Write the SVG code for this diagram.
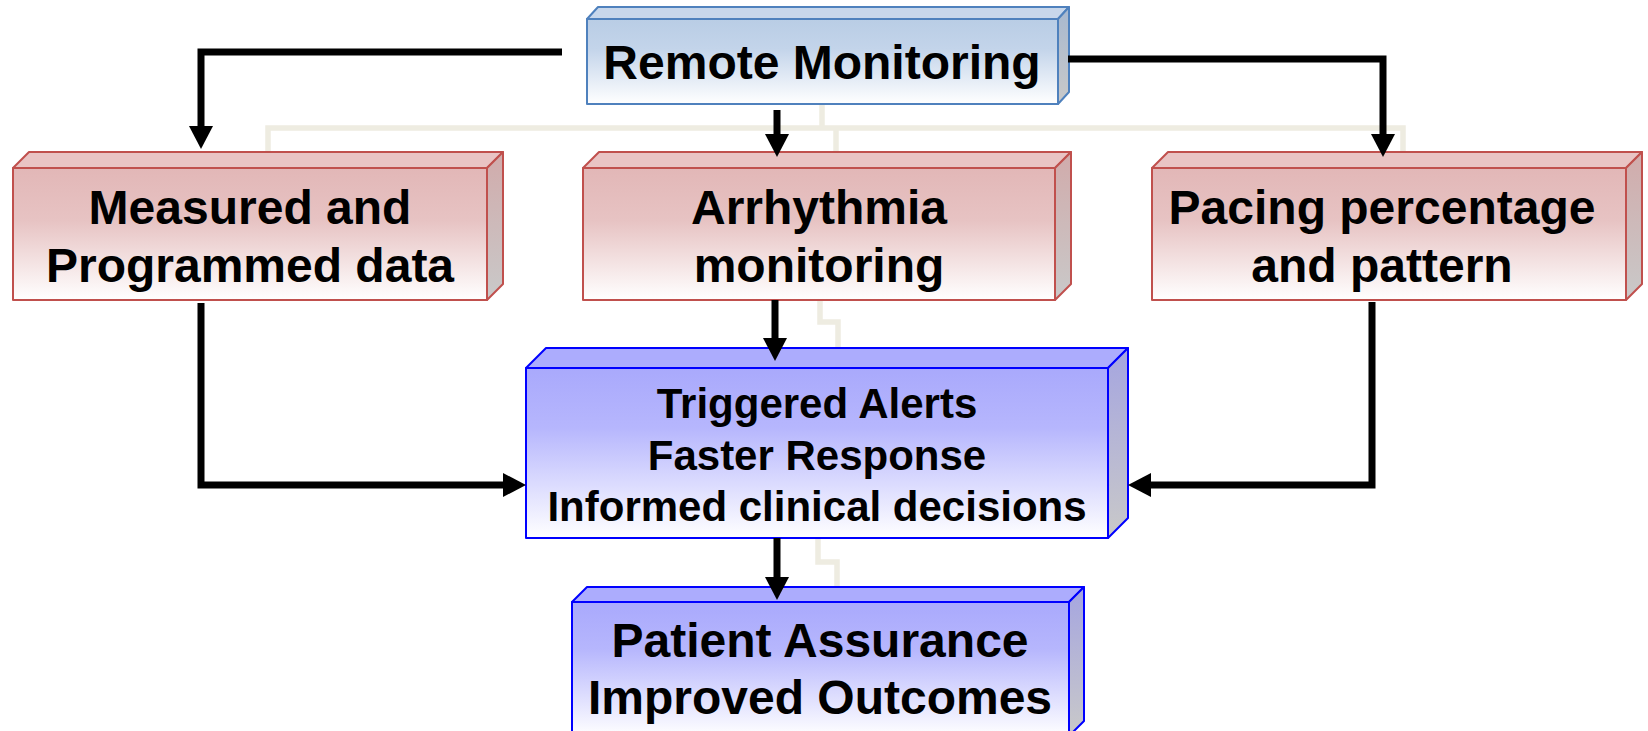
<svg xmlns="http://www.w3.org/2000/svg" width="1648" height="731" viewBox="0 0 1648 731">
  <defs>
    <!-- front-face fills: solid tint at the top fading to white -->
    <linearGradient id="gBlueFront" x1="0" y1="0" x2="0" y2="1">
      <stop offset="0" stop-color="#B9CDE5"/>
      <stop offset="0.35" stop-color="#C3D4EA"/>
      <stop offset="1" stop-color="#FFFFFF"/>
    </linearGradient>
    <linearGradient id="gRedFront" x1="0" y1="0" x2="0" y2="1">
      <stop offset="0" stop-color="#E2B7B7"/>
      <stop offset="0.4" stop-color="#E7C3C3"/>
      <stop offset="1" stop-color="#FFFFFF"/>
    </linearGradient>
    <linearGradient id="gVioletFront" x1="0" y1="0" x2="0" y2="1">
      <stop offset="0" stop-color="#A9A9FC"/>
      <stop offset="0.35" stop-color="#B6B6FD"/>
      <stop offset="1" stop-color="#FFFFFF"/>
    </linearGradient>
    <!-- side-face fills: darker tint fading to grey -->
    <linearGradient id="gBlueSide" x1="0" y1="0" x2="0" y2="1">
      <stop offset="0" stop-color="#A7B8CF"/>
      <stop offset="1" stop-color="#C9C9C9"/>
    </linearGradient>
    <linearGradient id="gRedSide" x1="0" y1="0" x2="0" y2="1">
      <stop offset="0" stop-color="#D1ABAB"/>
      <stop offset="1" stop-color="#C9C9C9"/>
    </linearGradient>
    <linearGradient id="gVioletSide" x1="0" y1="0" x2="0" y2="1">
      <stop offset="0" stop-color="#A5A5E0"/>
      <stop offset="1" stop-color="#C9C9C9"/>
    </linearGradient>
    <marker id="arrow" markerUnits="userSpaceOnUse" markerWidth="24" markerHeight="26" refX="0" refY="12" orient="auto" viewBox="0 0 24 24" overflow="visible">
      <path d="M0,0 L23,12 L0,24 Z" fill="#000000"/>
    </marker>
    <style>
      .guide { fill: none; stroke: #EEECE1; stroke-width: 5.5; }
      .link { fill: none; stroke: #000000; stroke-width: 7; marker-end: url(#arrow); }
      .blue .front { fill: url(#gBlueFront); }
      .blue .top { fill: #C8D7EB; }
      .blue .side { fill: url(#gBlueSide); }
      .blue polygon, .blue rect { stroke: #4F81BD; stroke-width: 2; stroke-linejoin: round; }
      .red .front { fill: url(#gRedFront); }
      .red .top { fill: #E9C4C4; }
      .red .side { fill: url(#gRedSide); }
      .red polygon, .red rect { stroke: #C0504D; stroke-width: 2; stroke-linejoin: round; }
      .violet .front { fill: url(#gVioletFront); }
      .violet .top { fill: #ACACFD; }
      .violet .side { fill: url(#gVioletSide); }
      .violet polygon, .violet rect { stroke: #0000FF; stroke-width: 2; stroke-linejoin: round; }
      text { font-family: "Liberation Sans", Arial, sans-serif; font-weight: bold; fill: #000000; text-anchor: middle; }
      .big { font-size: 48px; }
      .mid { font-size: 42px; }
    </style>
  </defs>

  <rect x="0" y="0" width="1648" height="731" fill="#FFFFFF"/>

  <!-- faint hierarchy lines behind the boxes -->
  <g id="guides">
    <path class="guide" d="M822,104 V128"/>
    <path class="guide" d="M268,152 V128 H1403 V152"/>
    <path class="guide" d="M836,128 V152"/>
    <path class="guide" d="M820,300 V322 H838 V348"/>
    <path class="guide" d="M818,538 V562 H837 V587"/>
  </g>

  <g id="node-remote" class="blue">
    <polygon class="top" points="587,19 598,7 1069,7 1058,19"/>
    <polygon class="side" points="1058,19 1069,7 1069,92 1058,104"/>
    <rect class="front" x="587" y="19" width="471" height="85"/>
    <text class="big" x="822" y="79">Remote Monitoring</text>
  </g>

  <g id="node-measured" class="red">
    <polygon class="top" points="13,168 29,152 503,152 487,168"/>
    <polygon class="side" points="487,168 503,152 503,284 487,300"/>
    <rect class="front" x="13" y="168" width="474" height="132"/>
    <text class="big" x="250" y="224">Measured and</text>
    <text class="big" x="250" y="282">Programmed data</text>
  </g>

  <g id="node-arrhythmia" class="red">
    <polygon class="top" points="583,168 599,152 1071,152 1055,168"/>
    <polygon class="side" points="1055,168 1071,152 1071,284 1055,300"/>
    <rect class="front" x="583" y="168" width="472" height="132"/>
    <text class="big" x="819" y="224">Arrhythmia</text>
    <text class="big" x="819" y="282">monitoring</text>
  </g>

  <g id="node-pacing" class="red">
    <polygon class="top" points="1152,168 1168,152 1642,152 1626,168"/>
    <polygon class="side" points="1626,168 1642,152 1642,284 1626,300"/>
    <rect class="front" x="1152" y="168" width="474" height="132"/>
    <text class="big" x="1382" y="224">Pacing percentage</text>
    <text class="big" x="1382" y="282">and pattern</text>
  </g>

  <g id="node-alerts" class="violet">
    <polygon class="top" points="526,368 546,348 1128,348 1108,368"/>
    <polygon class="side" points="1108,368 1128,348 1128,518 1108,538"/>
    <rect class="front" x="526" y="368" width="582" height="170"/>
    <text class="mid" x="817" y="418">Triggered Alerts</text>
    <text class="mid" x="817" y="470">Faster Response</text>
    <text class="mid" x="817" y="521">Informed clinical decisions</text>
  </g>

  <g id="node-outcomes" class="violet">
    <polygon class="top" points="572,602 587,587 1084,587 1069,602"/>
    <polygon class="side" points="1069,602 1084,587 1084,721 1069,736"/>
    <rect class="front" x="572" y="602" width="497" height="134"/>
    <text class="big" x="820" y="657">Patient Assurance</text>
    <text class="big" x="820" y="714">Improved Outcomes</text>
  </g>

  <g id="connectors">
    <path class="link" d="M562,52 H201 V126"/>
    <path class="link" d="M1068,59 H1383 V134"/>
    <path class="link" d="M777,110 V134"/>
    <path class="link" d="M775,300 V338"/>
    <path class="link" d="M201,303 V485 H503"/>
    <path class="link" d="M1372,302 V485 H1151"/>
    <path class="link" d="M777,538 V577"/>
  </g>
</svg>
